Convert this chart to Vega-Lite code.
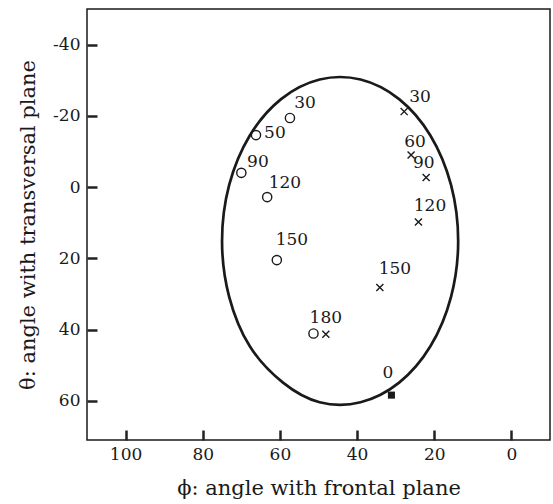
{
  "$schema": "https://vega.github.io/schema/vega-lite/v6.json",
  "width": 463,
  "height": 431,
  "autosize": {"type": "none"},
  "padding": {"left": 87, "top": 9, "right": 3, "bottom": 64},
  "background": "white",
  "config": {
    "view": {"stroke": "#1a1a1a", "strokeWidth": 1.5},
    "font": "DejaVu Serif",
    "axis": {
      "grid": false,
      "domain": false,
      "ticks": true,
      "offset": -10,
      "tickColor": "#222222",
      "tickOpacity": 1,
      "tickWidth": 2.5,
      "tickSize": 10,
      "labelFont": "DejaVu Serif",
      "labelFontSize": 17,
      "labelColor": "#1a1a1a",
      "titleFont": "DejaVu Serif",
      "titleFontSize": 21,
      "titleFontWeight": "normal",
      "titleColor": "#1a1a1a"
    }
  },
  "datasets": {
    "ellipse": [
      {"i": 0, "phi": 75.0, "theta": 15.1},
      {"i": 1, "phi": 73.15, "theta": 30.8},
      {"i": 2, "phi": 67.8, "theta": 44.7},
      {"i": 3, "phi": 59.2, "theta": 54.9},
      {"i": 4, "phi": 49.7, "theta": 60.4},
      {"i": 5, "phi": 39.1, "theta": 60.4},
      {"i": 6, "phi": 29.1, "theta": 54.9},
      {"i": 7, "phi": 21.0, "theta": 44.7},
      {"i": 8, "phi": 15.65, "theta": 30.8},
      {"i": 9, "phi": 13.8, "theta": 15.1},
      {"i": 10, "phi": 15.65, "theta": -0.6},
      {"i": 11, "phi": 21.0, "theta": -14.5},
      {"i": 12, "phi": 29.1, "theta": -24.7},
      {"i": 13, "phi": 39.1, "theta": -30.2},
      {"i": 14, "phi": 49.7, "theta": -30.2},
      {"i": 15, "phi": 59.7, "theta": -24.7},
      {"i": 16, "phi": 67.8, "theta": -14.5},
      {"i": 17, "phi": 73.15, "theta": -0.6}
    ],
    "points": [
      {"kind": "circle", "step": 30, "phi": 57.4, "theta": -19.4},
      {"kind": "circle", "step": 50, "phi": 66.2, "theta": -14.6},
      {"kind": "circle", "step": 90, "phi": 70.0, "theta": -4.0},
      {"kind": "circle", "step": 120, "phi": 63.3, "theta": 2.8},
      {"kind": "circle", "step": 150, "phi": 60.8, "theta": 20.5},
      {"kind": "circle", "step": 180, "phi": 51.3, "theta": 41.1},
      {"kind": "cross", "step": 30, "phi": 27.8, "theta": -21.2},
      {"kind": "cross", "step": 60, "phi": 26.0, "theta": -9.0},
      {"kind": "cross", "step": 90, "phi": 22.1, "theta": -2.7},
      {"kind": "cross", "step": 120, "phi": 24.1, "theta": 9.8},
      {"kind": "cross", "step": 150, "phi": 34.1, "theta": 28.2},
      {"kind": "cross", "step": 180, "phi": 48.1, "theta": 41.3},
      {"kind": "start", "step": 0, "phi": 31.1, "theta": 58.4}
    ],
    "labels": [
      {"label": "30", "phi": 53.5, "theta": -23.6},
      {"label": "50", "phi": 61.3, "theta": -15.2},
      {"label": "90", "phi": 65.7, "theta": -7.0},
      {"label": "120", "phi": 58.7, "theta": -1.2},
      {"label": "150", "phi": 56.9, "theta": 14.9},
      {"label": "180", "phi": 48.1, "theta": 36.7},
      {"label": "30", "phi": 23.7, "theta": -25.4},
      {"label": "60", "phi": 25.0, "theta": -12.7},
      {"label": "90", "phi": 22.7, "theta": -6.8},
      {"label": "120", "phi": 21.1, "theta": 5.3},
      {"label": "150", "phi": 30.2, "theta": 23.0},
      {"label": "0", "phi": 32.0, "theta": 52.2}
    ]
  },
  "encoding": {
    "x": {
      "field": "phi",
      "type": "quantitative",
      "scale": {"domain": [-10, 110], "reverse": true, "nice": false, "zero": false},
      "axis": {"values": [100, 80, 60, 40, 20, 0], "labelPadding": 6, "title": "ϕ: angle with frontal plane", "titlePadding": 15, "zindex": 1}
    },
    "y": {
      "field": "theta",
      "type": "quantitative",
      "scale": {"domain": [-50, 71], "reverse": true, "nice": false, "zero": false},
      "axis": {
        "values": [-40, -20, 0, 20, 40, 60],
        "labelPadding": 7,
        "labelExpr": "datum.value < 0 ? '-' + abs(datum.value) : '' + datum.value",
        "title": "θ: angle with transversal plane",
        "titlePadding": 14,
        "zindex": 1
      }
    }
  },
  "layer": [
    {
      "data": {"name": "ellipse"},
      "mark": {"type": "line", "interpolate": "cardinal-closed", "stroke": "#1a1a1a", "strokeWidth": 2.7},
      "encoding": {"order": {"field": "i", "type": "quantitative"}}
    },
    {
      "data": {"name": "points"},
      "transform": [{"filter": "datum.kind === 'circle'"}],
      "mark": {"type": "point", "shape": "circle", "filled": false, "stroke": "#1a1a1a", "strokeWidth": 1.4, "size": 85, "opacity": 1}
    },
    {
      "data": {"name": "points"},
      "transform": [{"filter": "datum.kind === 'cross'"}],
      "mark": {"type": "point", "shape": "M-1,-1L1,1M-1,1L1,-1", "filled": false, "stroke": "#1a1a1a", "strokeWidth": 1.4, "size": 50, "opacity": 1}
    },
    {
      "data": {"name": "points"},
      "transform": [{"filter": "datum.kind === 'start'"}],
      "mark": {"type": "point", "shape": "square", "filled": true, "fill": "#1a1a1a", "size": 50, "opacity": 1}
    },
    {
      "data": {"name": "labels"},
      "mark": {"type": "text", "font": "DejaVu Serif", "fontSize": 17, "fill": "#1a1a1a", "align": "center", "baseline": "middle"},
      "encoding": {"text": {"field": "label", "type": "nominal"}}
    }
  ]
}
